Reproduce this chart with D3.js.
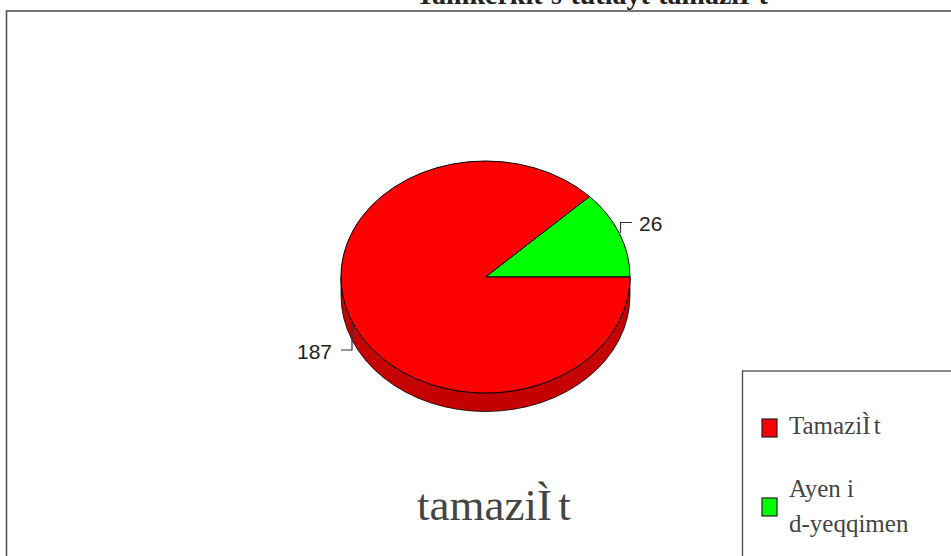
<!DOCTYPE html>
<html>
<head>
<meta charset="utf-8">
<script src="https://cdn.jsdelivr.net/npm/d3@7"></script>
<style>
    html, body { margin: 0; padding: 0; background: #fff; overflow: hidden; }
    svg { display: block; }
    .serif { font-family: "Liberation Serif", serif; fill: #444; }
    .sans { font-family: "Liberation Sans", sans-serif; fill: #222; font-size: 21px; }
</style>
</head>
<body>
<svg id="chart" width="951" height="556"></svg>
<script>
var categories = ['Tamaziɣt', 'Ayen i d-yeqqimen'];
var values = [187, 26];
var colors = ['#ff0000', '#00ff00'];
var sideColor = '#c40000';
var titleText = 'Tamkerkit s tutlayt tamaziÌ t';
var pieTitle = 'tamaziÌ t';
var legendLines = [['TamaziÌ t'], ['Ayen i', 'd-yeqqimen']];

var svg = d3.select('#chart');

// outer frame, runs off the right and bottom of the page
svg.append('rect')
    .attr('x', 6.5).attr('y', 11)
    .attr('width', 1000).attr('height', 600)
    .attr('fill', 'none').attr('stroke', '#555').attr('stroke-width', 1.6);

svg.append('text')
    .attr('class', 'serif')
    .attr('x', 416).attr('y', 4)
    .style('font-size', '28px').style('font-weight', 'bold').style('fill', '#222')
    .style('word-spacing', '1.5px')
    .text(titleText);

var cx = 485.5, cy = 277, rx = 144.5, ry = 116, depth = 18.5;

// green runs counter-clockwise from 3 o'clock, red takes the rest
var pie = d3.pie().sort(null).value(function (d) { return d; })
    .startAngle(Math.PI / 2)
    .endAngle(Math.PI / 2 - 2 * Math.PI);
var slices = pie([values[1], values[0]]);
var sliceColors = [colors[1], colors[0]];

var arc = d3.arc().innerRadius(0).outerRadius(1);

svg.append('path')
    .attr('d', 'M' + (cx - rx) + ',' + cy
        + 'A' + rx + ',' + ry + ' 0 0 0 ' + (cx + rx) + ',' + cy
        + 'L' + (cx + rx) + ',' + (cy + depth)
        + 'A' + rx + ',' + ry + ' 0 0 1 ' + (cx - rx) + ',' + (cy + depth) + 'Z')
    .attr('fill', sideColor)
    .attr('stroke', '#000').attr('stroke-width', 0.8);

svg.append('g')
    .attr('transform', 'translate(' + cx + ',' + cy + ') scale(' + rx + ',' + ry + ')')
    .selectAll('path')
    .data(slices)
    .enter().append('path')
    .attr('d', arc)
    .attr('fill', function (d, i) { return sliceColors[i]; })
    .attr('stroke', '#000')
    .attr('stroke-width', 1)
    .attr('vector-effect', 'non-scaling-stroke');

// value labels with their little elbows
svg.append('path').attr('d', 'M620.5,233V222.5H632').attr('fill', 'none').attr('stroke', '#333').attr('stroke-width', 1.2);
svg.append('path').attr('d', 'M352,323V350H341').attr('fill', 'none').attr('stroke', '#333').attr('stroke-width', 1.2);
svg.append('text').attr('class', 'sans').attr('x', 639).attr('y', 231).text(values[1]);
svg.append('text').attr('class', 'sans').attr('x', 297).attr('y', 359).text(values[0]);

svg.append('text')
    .attr('class', 'serif')
    .attr('x', 417).attr('y', 520)
    .style('font-size', '45px')
    .style('word-spacing', '-5px')
    .text(pieTitle);

// legend box
svg.append('rect')
    .attr('x', 742.5).attr('y', 371)
    .attr('width', 300).attr('height', 300)
    .attr('fill', '#fff').attr('stroke', '#555').attr('stroke-width', 1.4);

var legendBoxY = [419, 498];
var legendTextY = [[434], [497, 532]];

legendLines.forEach(function (lines, i) {
    svg.append('rect')
        .attr('x', 762).attr('y', legendBoxY[i])
        .attr('width', 15).attr('height', 18)
        .attr('fill', colors[i]).attr('stroke', '#222').attr('stroke-width', 1.2);
    lines.forEach(function (line, j) {
        svg.append('text')
            .attr('class', 'serif')
            .attr('x', 789).attr('y', legendTextY[i][j])
            .style('font-size', '25px')
            .style('word-spacing', i === 0 ? '-3px' : '0')
            .text(line);
    });
});
</script>
</body>
</html>
